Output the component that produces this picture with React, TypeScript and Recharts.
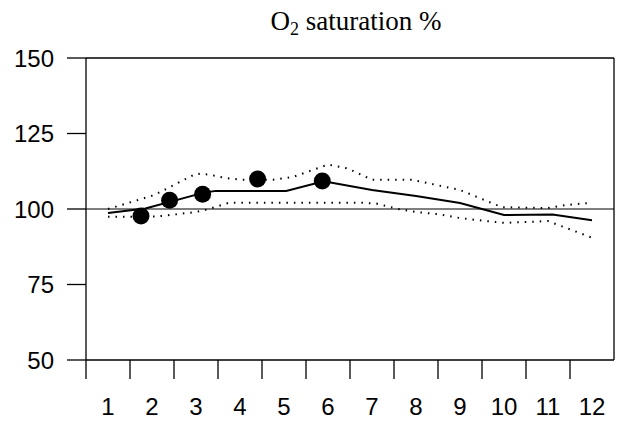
import React from 'react';
import {
  ComposedChart,
  Line,
  Scatter,
  XAxis,
  YAxis,
  ReferenceLine,
} from 'recharts';

// vertices of the mean curve and the dotted limits
const meanLine = [
  { x: 1, y: 98.7 },
  { x: 1.85, y: 100.2 },
  { x: 3.2, y: 105.5 },
  { x: 3.45, y: 106 },
  { x: 5.05, y: 106 },
  { x: 5.9, y: 109.2 },
  { x: 7, y: 106.3 },
  { x: 8, y: 104.3 },
  { x: 9, y: 102 },
  { x: 10, y: 98 },
  { x: 11.1, y: 98.2 },
  { x: 12, y: 96.3 },
];

const upperLine = [
  { x: 1, y: 100 },
  { x: 2.05, y: 104.6 },
  { x: 3.0, y: 111.7 },
  { x: 3.3, y: 111.4 },
  { x: 3.7, y: 110.2 },
  { x: 4.05, y: 109.7 },
  { x: 4.75, y: 109.7 },
  { x: 5.2, y: 110.6 },
  { x: 6.0, y: 114.7 },
  { x: 6.45, y: 113.4 },
  { x: 7.0, y: 109.7 },
  { x: 7.9, y: 109.7 },
  { x: 9.0, y: 106.3 },
  { x: 9.95, y: 100.6 },
  { x: 11.0, y: 100.3 },
  { x: 11.4, y: 101.3 },
  { x: 12, y: 102.1 },
];

const lowerLine = [
  { x: 1, y: 97.4 },
  { x: 2.1, y: 97.5 },
  { x: 3.0, y: 99 },
  { x: 3.3, y: 100 },
  { x: 3.75, y: 102.1 },
  { x: 6.7, y: 102.1 },
  { x: 7.1, y: 101.8 },
  { x: 7.6, y: 100 },
  { x: 8.0, y: 99 },
  { x: 8.5, y: 98.3 },
  { x: 9.0, y: 97 },
  { x: 9.6, y: 96 },
  { x: 10.0, y: 95.4 },
  { x: 11.0, y: 96 },
  { x: 12, y: 90.5 },
];

const observed = [
  { x: 1.75, y: 97.7 },
  { x: 2.4, y: 102.9 },
  { x: 3.15, y: 104.9 },
  { x: 4.4, y: 109.9 },
  { x: 5.87, y: 109.3 },
];

const xTicks = [0.5, 1.5, 2.5, 3.5, 4.5, 5.5, 6.5, 7.5, 8.5, 9.5, 10.5, 11.5];
const yTicks = [50, 75, 100, 125, 150];

const font = '"Liberation Sans", Arial, sans-serif';

// tick marks sit on the interval borders, the label in the middle of each
const XTick = (props: any) => {
  const { x, y, payload } = props;
  return (
    <text
      x={x + 22}
      y={y}
      dy="0.71em"
      textAnchor="middle"
      fontFamily={font}
      fontSize={24}
      fill="#000"
    >
      {payload.value + 0.5}
    </text>
  );
};

const Dot = (props: any) => <circle cx={props.cx} cy={props.cy} r={8.5} fill="#000" />;

export default function App() {
  return (
    <div style={{ position: 'absolute', left: 0, top: 0, width: 619, height: 423, background: '#fff' }}>
      <div
        style={{
          position: 'absolute',
          left: 207,
          top: 3,
          width: 298,
          textAlign: 'center',
          fontFamily: '"Liberation Serif", "Times New Roman", serif',
          fontSize: 27,
          lineHeight: '36px',
          color: '#000',
        }}
      >
        O<sub style={{ fontSize: 18, verticalAlign: '-5px', lineHeight: 0 }}>2</sub> saturation %
      </div>
      <ComposedChart
        width={619}
        height={423}
        margin={{ top: 58, right: 5, bottom: 0, left: 0 }}
      >
        <XAxis
          dataKey="x"
          type="number"
          domain={[0.5, 12.5]}
          ticks={xTicks}
          interval={0}
          allowDataOverflow
          height={63}
          tickSize={19}
          tickMargin={19}
          tick={<XTick />}
          axisLine={{ stroke: '#000', strokeWidth: 1.3 }}
          tickLine={{ stroke: '#000', strokeWidth: 1.3 }}
        />
        <YAxis
          type="number"
          domain={[50, 150]}
          ticks={yTicks}
          interval={0}
          width={86}
          tickSize={19}
          tickMargin={13}
          tick={{ fill: '#000', fontSize: 24, fontFamily: font }}
          axisLine={{ stroke: '#000', strokeWidth: 1.3 }}
          tickLine={{ stroke: '#000', strokeWidth: 1.3 }}
        />
        <ReferenceLine y={150} stroke="#000" strokeWidth={1.3} />
        <ReferenceLine x={12.5} stroke="#000" strokeWidth={1.3} />
        <ReferenceLine y={100} stroke="#000" strokeWidth={1.2} />
        <Line
          data={upperLine}
          dataKey="y"
          stroke="#000"
          strokeWidth={2}
          strokeDasharray="1.5 6"
          dot={false}
          activeDot={false}
          type="linear"
          isAnimationActive={false}
        />
        <Line
          data={lowerLine}
          dataKey="y"
          stroke="#000"
          strokeWidth={2}
          strokeDasharray="1.5 6"
          dot={false}
          activeDot={false}
          type="linear"
          isAnimationActive={false}
        />
        <Line
          data={meanLine}
          dataKey="y"
          stroke="#000"
          strokeWidth={2}
          dot={false}
          activeDot={false}
          type="linear"
          isAnimationActive={false}
        />
        <Scatter data={observed} dataKey="y" shape={<Dot />} isAnimationActive={false} />
      </ComposedChart>
    </div>
  );
}
